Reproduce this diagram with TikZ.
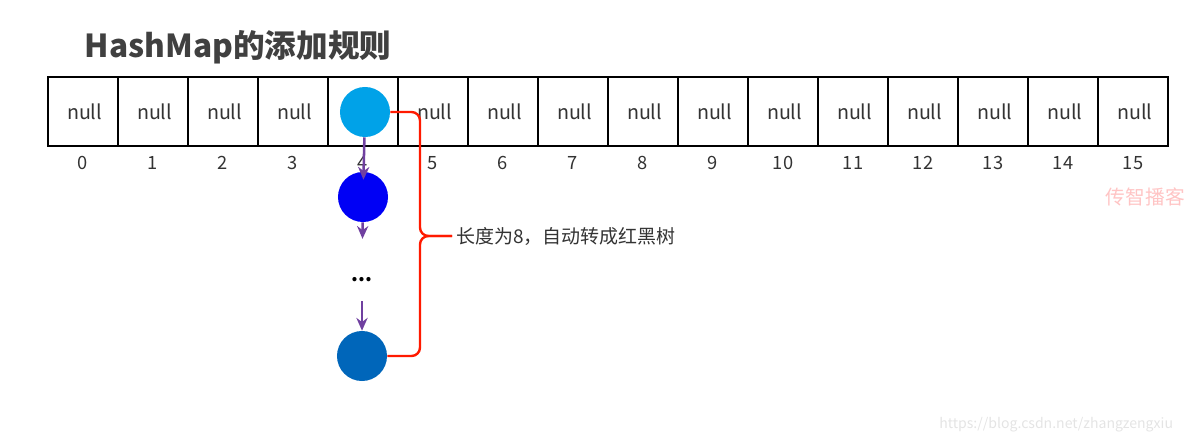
\documentclass[tikz,border=0pt]{standalone}
\usepackage{fontspec}
\setmainfont{Noto Sans CJK SC}
\usetikzlibrary{arrows.meta,positioning,calc}
\definecolor{ink}       {HTML}{000000}
\definecolor{titlegray} {HTML}{404040}
\definecolor{textgray}  {HTML}{333333}
\definecolor{headblue}  {HTML}{00A2E8}
\definecolor{nodeblue}  {HTML}{0000F5}
\definecolor{tailblue}  {HTML}{0066BA}
\definecolor{linkpurple}{HTML}{7040A0}
\definecolor{bracered}  {HTML}{FF1A00}
\definecolor{markpink}  {HTML}{FFC4C4}
\definecolor{urlgray}   {HTML}{E4E4E4}
\tikzset{
  cellbox/.style  ={draw=ink, line width=1.6pt,
                    minimum width=1.75cm, minimum height=1.725cm,
                    inner sep=0pt, font=\fontsize{14}{16}\selectfont, text=textgray},
  idxlabel/.style ={font=\fontsize{13}{15}\selectfont, text=textgray},
  listnode/.style ={circle, inner sep=0pt, minimum size=1.25cm},
  linkarr/.style  ={-{Stealth[length=3.2mm,width=2.8mm]}, line width=1.8pt, color=linkpurple},
  bracepath/.style={draw=bracered, line width=1.7pt, rounded corners=6pt},
}
\begin{document}
\begin{tikzpicture}[x=0.025cm,y=-0.025cm]
        \useasboundingbox (0,0) rectangle (1184,440);

        \node[anchor=west,font=\fontsize{22.5}{26}\selectfont\bfseries,text=titlegray] (title) at (80,47)
          {HashMap的添加规则};

        % table
        \foreach \i in {0,...,15} {
          \node[cellbox] (cell\i) at ({83+70*\i},111.5) {\ifnum\i=4 \else\hspace*{0.08cm}null\fi};
          \node[idxlabel] (idx\i) at ({83+70*\i},163) {\i};
        }

        % linked list
        \node[listnode,fill=headblue] (c1) at (365,112) {};
        \node[listnode,fill=nodeblue] (c2) at (363,197) {};
        \node[font=\fontsize{14}{16}\selectfont\bfseries] (dots) at (362,280) {...};
        \node[listnode,fill=tailblue] (c3) at (362,356) {};

        % arrows
        \draw[linkarr,shorten >=-0.2cm] (c1) -- (c2);
        \draw[linkarr,shorten >=0.85cm] (c2) -- (dots);
        \draw[linkarr,shorten <=0.35cm] (dots) -- (c3);

        % brace
        \node[anchor=west,font=\fontsize{13.5}{16}\selectfont,text=textgray,inner sep=0.1cm] (note) at (452,236)
          {长度为8，自动转成红黑树};
        \coordinate (bracemid) at (420,236);
        \draw[bracepath] (c1.east) -| (bracemid) -- (note.west);
        \draw[bracepath] (c3.east) -| (bracemid) -- (note.west);

        % watermarks
        \node[anchor=west,font=\fontsize{14}{16}\selectfont,text=markpink] (mark) at (1101,197) {传智播客};
        \node[anchor=east,font=\fontsize{10}{12}\selectfont,text=urlgray] (url) at (1178,425)
          {https://blog.csdn.net/zhangzengxiu};
      \end{tikzpicture}
\end{document}
